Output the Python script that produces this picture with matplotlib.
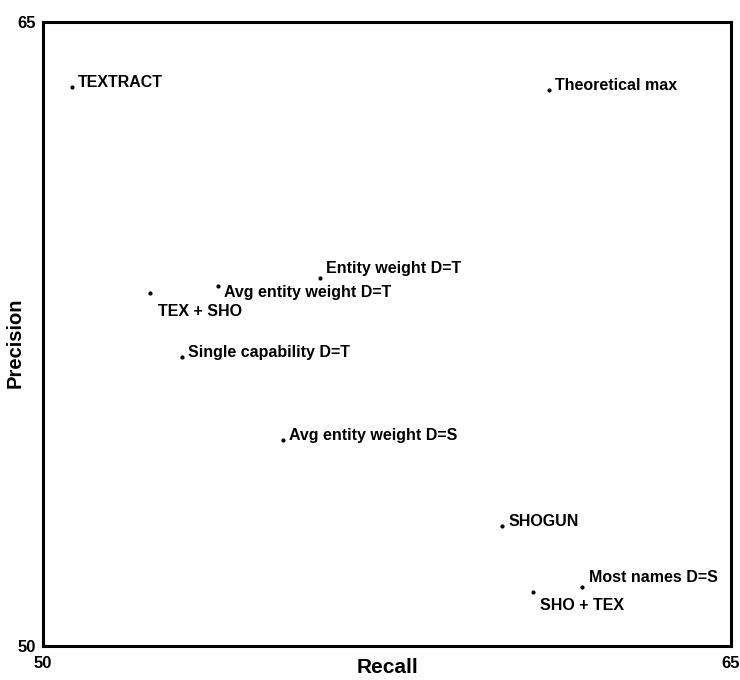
import matplotlib
matplotlib.use('Agg')
import matplotlib.pyplot as plt

plt.rcParams['font.family'] = ['Liberation Sans', 'DejaVu Sans']

systems = ['TEXTRACT', 'Theoretical max', 'Entity weight D=T', 'Avg entity weight D=T',
           'TEX + SHO', 'Single capability D=T', 'Avg entity weight D=S', 'SHOGUN',
           'Most names D=S', 'SHO + TEX']
recall = [50.63, 61.02, 56.03, 53.81, 52.33, 53.03, 55.23, 60.00, 61.74, 60.68]
precision = [63.44, 63.37, 58.85, 58.65, 58.49, 56.95, 54.95, 52.88, 51.42, 51.30]

# label offsets in pixels (dx, dy) from the dot
offsets = [(6, 0), (6, 0), (6, 5), (6, -11), (8, -23), (6, 0), (6, 0), (7, 0), (7, 5), (7, -18)]

fig = plt.figure(figsize=(7.4, 6.8), dpi=100)
ax = fig.add_axes([0.058, 0.05, 0.93, 0.918])

ax.scatter(recall, precision, s=4, color='black', zorder=3)
for name, x, y, (dx, dy) in zip(systems, recall, precision, offsets):
    ax.annotate(name, (x, y), xytext=(dx * 0.72, dy * 0.72), textcoords='offset points',
                ha='left', va='baseline', fontsize=11.5, fontweight='bold')

ax.set_xlim(50, 65)
ax.set_ylim(50, 65)
ax.set_xticks([50, 65])
ax.set_yticks([50, 65])
ax.tick_params(length=0, labelsize=12)
ax.tick_params(axis='x', pad=7)
ax.tick_params(axis='y', pad=5)
for lbl in ax.get_xticklabels() + ax.get_yticklabels():
    lbl.set_fontweight('bold')
for sp in ax.spines.values():
    sp.set_linewidth(2.2)

ax.set_xlabel('Recall', fontsize=15, fontweight='bold')
ax.xaxis.set_label_coords(0.5, -0.019, transform=ax.transAxes)
ax.xaxis.label.set_va('top')
ax.set_ylabel('Precision', fontsize=14.5, fontweight='bold')
ax.yaxis.set_label_coords(-0.026, 0.485)

plt.savefig('out.png', dpi=100)
